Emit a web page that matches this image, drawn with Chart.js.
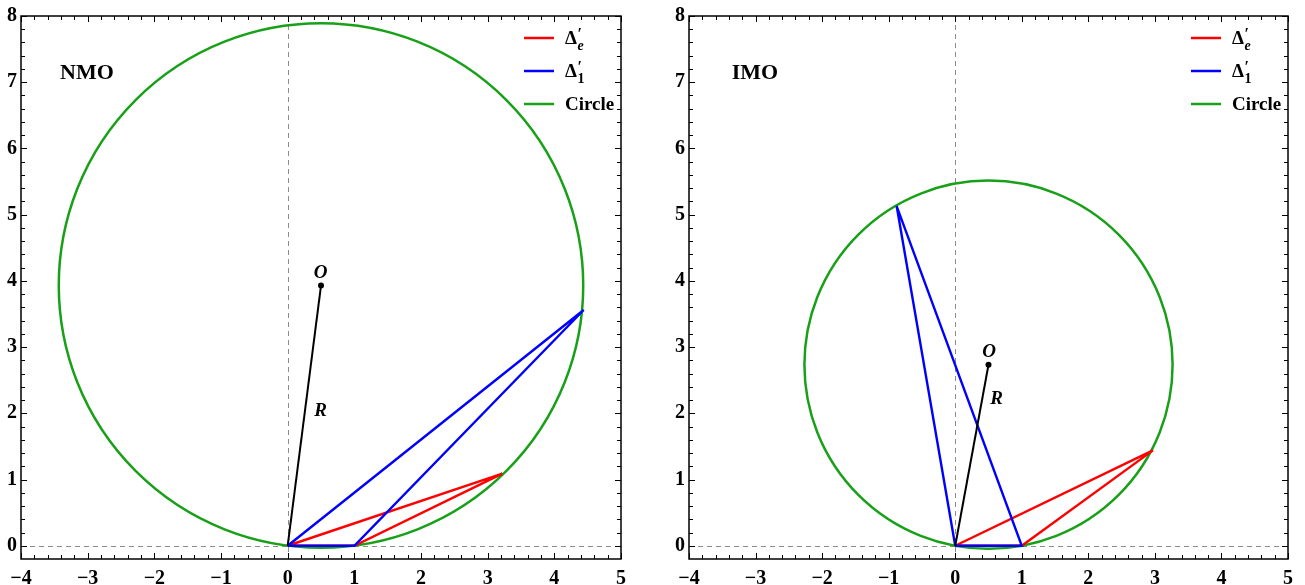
<!DOCTYPE html>
<html><head><meta charset="utf-8">
<script src="https://cdn.jsdelivr.net/npm/chart.js@4.4.0/dist/chart.umd.min.js"></script>
<style>
html,body{margin:0;padding:0;background:#fff;width:1305px;height:585px;overflow:hidden;}
.box{position:absolute;top:0;height:585px;}
#b1{left:0;width:645px;}
#b2{left:655px;width:650px;}
</style></head><body>
<div class="box" id="b1"><canvas id="c1"></canvas></div>
<div class="box" id="b2"><canvas id="c2"></canvas></div>
<script>
// ---- tick labels ----
const xTickValues = [-4, -3, -2, -1, 0, 1, 2, 3, 4, 5];
const xTickLabels = ['\u22124', '\u22123', '\u22122', '\u22121', '0', '1', '2', '3', '4', '5'];
const yTickValues = [0, 1, 2, 3, 4, 5, 6, 7, 8];
const yTickLabels = ['0', '1', '2', '3', '4', '5', '6', '7', '8'];

// ---- series names ----
const seriesNames = ['\u0394\u2032e', '\u0394\u20321', 'Circle'];
const panelTitles = ['NMO', 'IMO'];

// ---- NMO panel values ----
const nmoCenter = [0.5, 3.93];
const nmoRadius = [3.96];
const nmoDeltaE = [[0, 0], [3.22, 1.09], [1, 0], [0, 0]];
const nmoDelta1 = [[0, 0], [4.44, 3.56], [1, 0], [0, 0]];
const nmoRadiusLine = [[0, 0], [0.5, 3.93]];

// ---- IMO panel values ----
const imoCenter = [0.5, 2.734];
const imoRadius = [2.78];
const imoDeltaE = [[0, 0], [2.97, 1.44], [1, 0], [0, 0]];
const imoDelta1 = [[0, 0], [-0.88, 5.13], [1, 0], [0, 0]];
const imoRadiusLine = [[0, 0], [0.5, 2.734]];

const toXY = arr => arr.map(p => ({x: p[0], y: p[1]}));
const SERIF = "'Liberation Serif', 'Times New Roman', serif";
const GREEN = 'rgb(24,160,24)';

const geoPlugin = {
  id: 'geo',
  beforeDatasetsDraw(chart, args, opts) {
    const {ctx, chartArea: a, scales: {x, y}} = chart;
    ctx.save();
    ctx.strokeStyle = '#8c8c8c';
    ctx.lineWidth = 1;
    ctx.setLineDash([5, 4]);
    const px0 = Math.round(x.getPixelForValue(0)) + 0.5;
    const py0 = Math.round(y.getPixelForValue(0)) + 0.5;
    ctx.beginPath(); ctx.moveTo(px0, a.top); ctx.lineTo(px0, a.bottom); ctx.stroke();
    ctx.beginPath(); ctx.moveTo(a.left, py0); ctx.lineTo(a.right, py0); ctx.stroke();
    ctx.restore();
  },
  afterDatasetsDraw(chart, args, opts) {
    const {ctx, chartArea: a, scales: {x, y}} = chart;
    ctx.save();
    ctx.fillStyle = '#000';
    ctx.textAlign = 'center';
    ctx.textBaseline = 'middle';
    (opts.texts || []).forEach(t => {
      ctx.font = t.font;
      ctx.fillText(t.text, x.getPixelForValue(t.x), y.getPixelForValue(t.y));
    });
    // legend
    const items = [
      {color: '#ff0000', main: '\u0394', sup: '\u2032', sub: 'e', subItalic: true},
      {color: '#0000ff', main: '\u0394', sup: '\u2032', sub: '1', subItalic: false},
      {color: GREEN, main: seriesNames[2]}
    ];
    ctx.textAlign = 'left';
    ctx.textBaseline = 'alphabetic';
    items.forEach((it, i) => {
      const ly = a.top + 22 + i * 33;
      ctx.strokeStyle = it.color;
      ctx.lineWidth = 2.5;
      ctx.beginPath(); ctx.moveTo(a.right - 97, ly); ctx.lineTo(a.right - 67, ly); ctx.stroke();
      const tx = a.right - 56;
      ctx.font = 'bold 19px ' + SERIF;
      ctx.fillText(it.main, tx, ly + 6);
      if (it.sup) {
        const w = ctx.measureText(it.main).width;
        ctx.font = 'bold 16px ' + SERIF;
        ctx.fillText(it.sup, tx + w + 0.5, ly + 1);
        ctx.font = (it.subItalic ? 'italic ' : '') + 'bold 14px ' + SERIF;
        ctx.fillText(it.sub, tx + w + 0.5, ly + 12);
      }
    });
    ctx.restore();
  },
  afterDraw(chart) {
    const {ctx, chartArea: a, scales: {x, y}} = chart;
    ctx.save();
    ctx.strokeStyle = '#000';
    ctx.lineWidth = 1.5;
    ctx.strokeRect(a.left, a.top, a.right - a.left, a.bottom - a.top);
    ctx.lineWidth = 1;
    const MAJ = 6, MIN = 4;
    for (let k = Math.round(x.min * 5); k <= Math.round(x.max * 5); k++) {
      const px = Math.round(x.getPixelForValue(k / 5)) + 0.5;
      const L = (k % 5 === 0) ? MAJ : MIN;
      ctx.beginPath();
      ctx.moveTo(px, a.bottom); ctx.lineTo(px, a.bottom - L);
      ctx.moveTo(px, a.top); ctx.lineTo(px, a.top + L);
      ctx.stroke();
    }
    for (let k = Math.round(y.min * 5) + 1; k <= Math.round(y.max * 5); k++) {
      const py = Math.round(y.getPixelForValue(k / 5)) + 0.5;
      const L = (k % 5 === 0) ? MAJ : MIN;
      ctx.beginPath();
      ctx.moveTo(a.left, py); ctx.lineTo(a.left + L, py);
      ctx.moveTo(a.right, py); ctx.lineTo(a.right - L, py);
      ctx.stroke();
    }
    ctx.restore();
  }
};

function makeChart(id, p) {
  // circle radius (data units) converted to pixels through the y scale
  const radiusPx = (ctx) => {
    const s = ctx.chart.scales.y;
    if (!s) return 0;
    const v = Math.abs(s.getPixelForValue(p.radius[0]) - s.getPixelForValue(0));
    return isFinite(v) ? v : 0;
  };
  return new Chart(document.getElementById(id), {
    type: 'scatter',
    data: {
      datasets: [
        {label: seriesNames[0], data: toXY(p.deltaE), showLine: true, borderColor: '#ff0000',
         borderWidth: 2.4, pointRadius: 0, order: 3},
        {label: seriesNames[1], data: toXY(p.delta1), showLine: true, borderColor: '#0000ff',
         borderWidth: 2.4, pointRadius: 0, order: 2},
        {label: seriesNames[2], data: [{x: p.center[0], y: p.center[1]}], showLine: false,
         pointRadius: radiusPx, pointBackgroundColor: 'rgba(0,0,0,0)', pointBorderColor: GREEN,
         pointBorderWidth: 2.5, borderColor: GREEN, clip: false, order: 4},
        {label: 'R', data: toXY(p.rline), showLine: true, borderColor: '#000',
         borderWidth: 2, pointRadius: [0, 3], pointBackgroundColor: '#000',
         pointBorderWidth: 0, order: 1}
      ]
    },
    options: {
      responsive: true, maintainAspectRatio: false, animation: false, events: [],
      layout: {autoPadding: false, padding: {left: 0, right: p.padR, top: 14, bottom: 0}},
      plugins: {legend: {display: false}, tooltip: {enabled: false}, geo: {texts: p.texts}},
      scales: {
        x: {
          type: 'linear', min: -4, max: 5,
          afterBuildTicks: s => { s.ticks = xTickValues.map(v => ({value: v})); },
          afterFit: s => { s.height = 26; },
          grid: {display: false, drawTicks: false}, border: {display: false},
          ticks: {
            autoSkip: false, maxRotation: 0, padding: 8, color: '#000',
            font: {family: SERIF, weight: 'bold', size: 20},
            callback: v => xTickLabels[xTickValues.indexOf(v)]
          }
        },
        y: {
          type: 'linear', min: -0.2, max: 8,
          afterBuildTicks: s => { s.ticks = yTickValues.map(v => ({value: v})); },
          afterFit: s => { s.width = p.yW; },
          grid: {display: false, drawTicks: false}, border: {display: false},
          ticks: {
            autoSkip: false, padding: 4, color: '#000',
            font: {family: SERIF, weight: 'bold', size: 20},
            callback: v => yTickLabels[yTickValues.indexOf(v)]
          }
        }
      }
    },
    plugins: [geoPlugin]
  });
}

makeChart('c1', {
  center: nmoCenter, radius: nmoRadius, deltaE: nmoDeltaE, delta1: nmoDelta1, rline: nmoRadiusLine,
  padR: 24, yW: 21,
  texts: [
    {text: panelTitles[0], x: -3.01, y: 7.14, font: 'bold 22px ' + SERIF},
    {text: 'O', x: 0.495, y: 4.12, font: 'italic bold 19px ' + SERIF},
    {text: 'R', x: 0.495, y: 2.04, font: 'italic bold 19px ' + SERIF}
  ]
});
makeChart('c2', {
  center: imoCenter, radius: imoRadius, deltaE: imoDeltaE, delta1: imoDelta1, rline: imoRadiusLine,
  padR: 17, yW: 34,
  texts: [
    {text: panelTitles[1], x: -3.01, y: 7.13, font: 'bold 22px ' + SERIF},
    {text: 'O', x: 0.508, y: 2.92, font: 'italic bold 19px ' + SERIF},
    {text: 'R', x: 0.623, y: 2.22, font: 'italic bold 19px ' + SERIF}
  ]
});
</script>
</body></html>
